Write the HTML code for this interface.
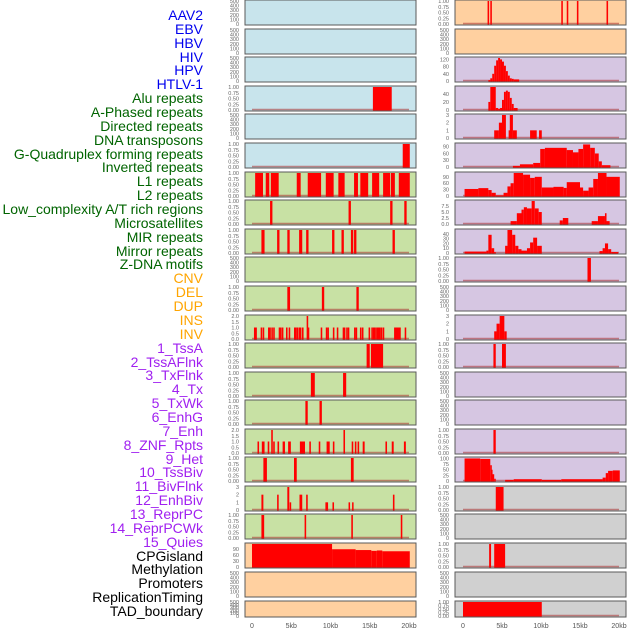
<!DOCTYPE html>
<html><head><meta charset="utf-8"><style>
body{margin:0;background:#fff;width:630px;height:630px;overflow:hidden;font-family:"Liberation Sans",sans-serif}
#labels div{position:absolute;right:427px;font-size:14px;line-height:14px;white-space:nowrap}
</style></head><body>
<div id="labels" style="position:absolute;left:0;top:0;width:630px;height:630px"></div>
<svg id="chart" width="630" height="630" style="position:absolute;left:0;top:0" xmlns="http://www.w3.org/2000/svg"></svg>
<script>
const trackLabels=["AAV2","EBV","HBV","HIV","HPV","HTLV-1","Alu repeats","A-Phased repeats","Directed repeats","DNA transposons","G-Quadruplex forming repeats","Inverted repeats","L1 repeats","L2 repeats","Low_complexity A/T rich regions","Microsatellites","MIR repeats","Mirror repeats","Z-DNA motifs","CNV","DEL","DUP","INS","INV","1_TssA","2_TssAFlnk","3_TxFlnk","4_Tx","5_TxWk","6_EnhG","7_Enh","8_ZNF_Rpts","9_Het","10_TssBiv","11_BivFlnk","12_EnhBiv","13_ReprPC","14_ReprPCWk","15_Quies","CPGisland","Methylation","Promoters","ReplicationTiming","TAD_boundary"];
const labelColors=["#0000ee","#0000ee","#0000ee","#0000ee","#0000ee","#0000ee","#006400","#006400","#006400","#006400","#006400","#006400","#006400","#006400","#006400","#006400","#006400","#006400","#006400","#ffa500","#ffa500","#ffa500","#ffa500","#ffa500","#a020f0","#a020f0","#a020f0","#a020f0","#a020f0","#a020f0","#a020f0","#a020f0","#a020f0","#a020f0","#a020f0","#a020f0","#a020f0","#a020f0","#a020f0","#000","#000","#000","#000","#000"];
const xTickValues=[0,5,10,15,20];
const xTickLabels=["0","5kb","10kb","15kb","20kb"];
const leftBg=["b","b","b","b","b","b","g","g","g","g","g","g","g","g","g","g","g","g","g","p","p","p"];
const rightBg=["o","o","u","u","u","u","u","u","u","u","u","u","u","u","u","u","u","y","y","y","y","y"];
const leftTicks=["E","E","E","U","E","U","U","U","U","E","U","T2","U","U","U","T2","U","T3","U","C","E","E"];
const rightTicks=["U","E","H","M","T3","C","C","L","R","U","E","T3","U","E","E","U","P","U","E","U","E","U"];
const leftMax=[500,500,500,1,500,1,1,1,1,500,1,2,1,1,1,2,1,3,1,114,500,500];
const rightMax=[1,500,128,57,3,102,108,9.6,48,1,500,3,1,500,500,1,102,1,500,1,500,1];
const leftSeries=[[],[],[],[[15.4,17.8,1]],[],[[19.2,20.1,1]],
[[0.4,1.4,1],[1.75,2.2,1],[2.4,3.4,1],[5.7,6.2,1],[7.1,8.8,1],[9.4,10.4,1],[11,11.8,1],[13,13.5,1],[13.8,14.8,1],[15.3,16.2,1],[16.7,17.6,1],[17.7,18.2,1],[18.7,20.1,1]],
[[2.3,2.6,1],[12.3,12.6,1],[17.6,17.9,1],[19.4,19.7,1]],
[[1.2,1.6,1],[3.2,3.5,1],[4.5,4.8,1],[6,6.4,1],[6.9,7.2,1],[10.2,10.5,1],[11.4,11.7,1],[12.6,12.9,1],[13,13.3,1],[17.9,18.2,1]],
[],
[[4.5,4.85,1],[8.9,9.2,1],[13.3,13.6,1]],
[[0.25,0.45,1],[0.42,0.62,1],[1.1,1.3,1],[1.36,1.56,1],[2.04,2.24,1],[2.2,2.4,1],[2.46,2.66,1],[2.7,2.9,1],[3.4,3.6,1],[3.57,3.77,1],[3.8,4,1],[4.33,4.53,1],[4.67,4.87,1],[5.35,5.55,1],[5.5,5.7,1],[5.7,5.9,1],[5.95,6.15,1],[6.1,6.3,1],[6.37,6.57,1],[6.96,7.16,2],[7.1,7.3,1],[8.75,8.95,1],[9.4,9.6,1],[9.6,9.8,1],[10.3,10.5,1],[10.8,11,1],[11.55,11.75,1],[11.7,11.9,1],[12,12.2,1],[12.2,12.4,1],[13,13.2,1],[13.2,13.4,1],[13.75,13.95,1],[14,14.2,1],[14.85,15.05,1],[15.2,15.4,1],[15.4,15.6,1],[15.5,15.7,1],[15.7,15.9,1],[15.9,16.1,1],[16.05,16.25,1],[16.2,16.4,1],[16.4,16.6,1],[16.65,16.85,1],[18.1,18.3,1],[18.25,18.45,1],[18.4,18.6,1],[18.6,18.8,1],[18.75,18.95,1],[19.45,19.65,1]],
[[14.6,15,1],[15.15,16.7,1]],
[[7.5,8,1],[11.6,12,1]],
[[6.8,7.1,1],[8.6,8.9,1]],
[[0.7,0.9,1],[1.25,1.45,1],[1.4,1.6,1],[2,2.2,1],[2.45,2.65,2],[2.7,2.9,1],[3.25,3.45,1],[3.9,4.1,1],[4.0,4.2,1],[4.6,4.8,1],[4.75,4.95,1],[6.1,6.75,1],[7.3,7.5,1],[8.5,8.7,1],[9.5,9.9,1],[10.3,10.5,1],[11.65,11.85,2],[12.7,12.9,1],[13.1,13.3,1],[13.45,13.65,1],[14.1,14.35,1],[17,17.2,1],[17.8,18.05,1],[19.35,19.6,1]],
[[1.45,1.9,1],[5.35,5.7,1],[12.6,12.95,1]],
[[1.2,1.45,2],[3.2,3.4,2],[4.5,4.75,3],[4.8,4.95,1],[6.05,6.25,2],[6.2,6.4,2],[6.9,7.1,2],[9.35,9.5,1],[9.5,9.65,1],[10.25,10.45,1],[12.3,12.45,1],[12.75,12.9,1],[17.95,18.15,2]],
[[1.2,1.55,1],[6.7,6.9,1],[12.65,12.85,1],[18.95,19.15,1]],
[[0,10.2,114],[10.2,13.2,88],[13.2,15.2,84],[15.2,15.9,80],[15.9,16.6,82],[16.6,20.1,78]],
[],[]];
const rightSeries=[
[[3.15,3.35,1],[3.5,3.7,1],[12.6,12.8,1],[13.3,13.5,1],[14.6,14.8,1],[18.4,18.6,1]],
[],
[[3.25,3.5,5],[3.5,3.75,15],[3.75,4,40],[4,4.25,85],[4.25,4.5,115],[4.5,4.75,128],[4.75,5,120],[5,5.25,108],[5.25,5.5,85],[5.5,5.75,55],[5.75,6,30],[6,6.25,15],[6.25,6.5,12],[6.5,7.2,9]],
[[3.25,3.5,20],[3.5,4.2,57],[4.2,4.5,5],[4.5,4.75,3],[4.75,5,5],[5,5.25,25],[5.25,5.5,45],[5.5,5.75,48],[5.75,6,45],[6,6.25,30],[6.25,6.5,15],[6.5,7,5]],
[[4,4.6,1],[4.6,5,2],[5,5.5,3],[5.85,6,1],[6,6.4,3],[6.4,6.9,1],[8.6,9.45,1],[9.75,10.1,1]],
[[6.4,7.3,5],[7.3,9,12],[9,9.9,18],[9.9,10.5,80],[10.5,13.3,85],[13.3,14.1,75],[14.1,14.8,65],[14.8,15.4,80],[15.4,16.3,100],[16.3,16.9,85],[16.9,17.4,60],[17.4,17.8,25],[17.8,18.9,8]],
[[0.2,1.97,33],[1.97,3.25,37],[3.25,3.67,28],[3.67,4.2,15],[4.2,5.2,3],[5.2,5.7,15],[5.7,6.1,45],[6.1,6.5,60],[6.5,7.7,108],[7.7,8.6,100],[8.6,9.2,85],[9.2,10.1,90],[10.1,11.6,40],[11.6,12.9,43],[12.9,13.3,38],[13.3,15,65],[15,15.4,40],[15.4,16.1,25],[16.1,16.7,40],[16.7,17.3,80],[17.3,18.4,108],[18.4,20.1,90]],
[[6.1,6.9,1.2],[6.9,7.5,4.5],[7.5,7.8,6],[7.8,8.2,7],[8.2,8.8,6.5],[8.8,9.2,9.6],[9.2,9.7,6.5],[9.7,10.1,5],[12.4,12.8,1.5],[12.8,13.5,2.5],[16.5,17.3,1.2],[17.3,18.2,3.3],[18.2,18.4,4.5],[18.4,18.8,1.2]],
[[0.2,3,3],[3,3.25,5],[3.25,3.67,38],[3.67,4,10],[4,4.2,2],[5.4,5.7,15],[5.7,6.3,48],[6.3,6.7,38],[6.7,7.1,15],[7.1,7.5,8],[7.5,8.2,5],[8.2,8.6,10],[8.6,9,22],[9,9.5,32],[9.5,10.1,15],[17.5,17.9,4],[17.9,18.2,10],[18.2,18.6,20],[18.6,19,8],[19,19.9,2]],
[[15.96,16.4,1]],
[],
[[4,4.3,1],[4.3,4.7,2],[4.7,5.3,3],[5.3,5.6,1]],
[[3.9,4.2,1],[5,5.5,1]],
[],[],
[[3.9,4.2,1]],
[[0.2,2.2,100],[2.2,3.5,98],[3.5,3.6,70],[3.6,3.75,50],[3.75,4,30],[4,4.2,10],[5.4,6.5,5],[6.5,10.1,8],[10.1,12.6,5],[12.6,17.9,8],[17.9,18.3,15],[18.3,18.6,35],[18.6,19.2,45],[19.2,20.1,47]],
[[4.2,5.2,1]],
[],
[[3.35,3.6,1],[4,5.4,1]],
[],
[[0,10.1,1]]];
const tickSets={E:[0,100,200,300,400,500],U:[0,0.25,0.5,0.75,1],T2:[0,0.5,1,1.5,2],T3:[0,1,2,3],C:[0,30,60,90],H:[0,40,80,120],M:[0,20,40],L:[0,2.5,5,7.5],R:[0,10,20,30,40],P:[0,25,50,75,100]};
const tickFmt={E:0,U:2,T2:1,T3:0,C:0,H:0,M:0,L:1,R:0,P:0};
const bgColors={b:"#c8e4ec",o:"#ffd0a0",u:"#d6c6e2",g:"#c8e1a4",p:"#ffd0a0",y:"#d0d0d0"};
const rowTops=[0,29,57,86,114,143,172,200,229,257,286,315,343,372,400,429,457,486,514,543,572,601];
const NS="http://www.w3.org/2000/svg";
const svg=document.getElementById('chart');
function mk(tag,attrs){const e=document.createElementNS(NS,tag);for(const k in attrs)e.setAttribute(k,attrs[k]);svg.appendChild(e);return e;}
const cols=[{x0:245,x1:416,d0:252,d1:409,bg:leftBg,tk:leftTicks,mx:leftMax,s:leftSeries,n:'left'},{x0:455,x1:626,d0:463,d1:619,bg:rightBg,tk:rightTicks,mx:rightMax,s:rightSeries,n:'right'}];
cols.forEach(c=>{
  const xs=v=>c.d0+(c.d1-c.d0)*v/20;
  rowTops.forEach((top,i)=>{
    const h=i===21?16:25;
    const r=mk('rect',{x:c.x0,y:top,width:c.x1-c.x0,height:h,fill:bgColors[c.bg[i]],stroke:"#5a5a5a","stroke-width":1});
    
    
    const yb=top+h-1,yt=top+1,mx=c.mx[i];
    const ys=v=>yb-(yb-yt)*Math.min(v,mx)/mx;
    const ts=tickSets[c.tk[i]],f=tickFmt[c.tk[i]];
    ts.forEach(t=>{const tx=mk('text',{x:239,y:ys(t)+2,"font-size":5.5,fill:"#666","text-anchor":"end"});tx.textContent=t.toFixed(f);
      if(c.n==='right')tx.setAttribute('x',449);
      
      });
    const segs=c.s[i];
    if(c.tk[i]!=='E'||segs.length){const bl=mk('line',{x1:xs(0),x2:xs(20),y1:yb-0.5,y2:yb-0.5,stroke:"rgba(170,50,50,0.55)","stroke-width":1.5});
      
      }
    segs.forEach(sg=>{const b=mk('rect',{x:xs(sg[0]),y:ys(sg[2]),width:Math.max(1.5,xs(sg[1])-xs(sg[0])),height:yb-ys(sg[2])+0.5,fill:"#ff0000"});
      
      });
  });
  xTickValues.forEach((v,k)=>{const t=mk('text',{x:xs(v),y:628,"font-size":7,fill:"#555","text-anchor":"middle"});t.textContent=xTickLabels[k];
    
    });
});
const lab=document.getElementById('labels');
trackLabels.forEach((t,i)=>{const d=document.createElement('div');d.textContent=t;d.style.top=(8+i*13.86)+'px';d.style.color=labelColors[i];
  
  
  lab.appendChild(d);});
</script>
</body></html>
